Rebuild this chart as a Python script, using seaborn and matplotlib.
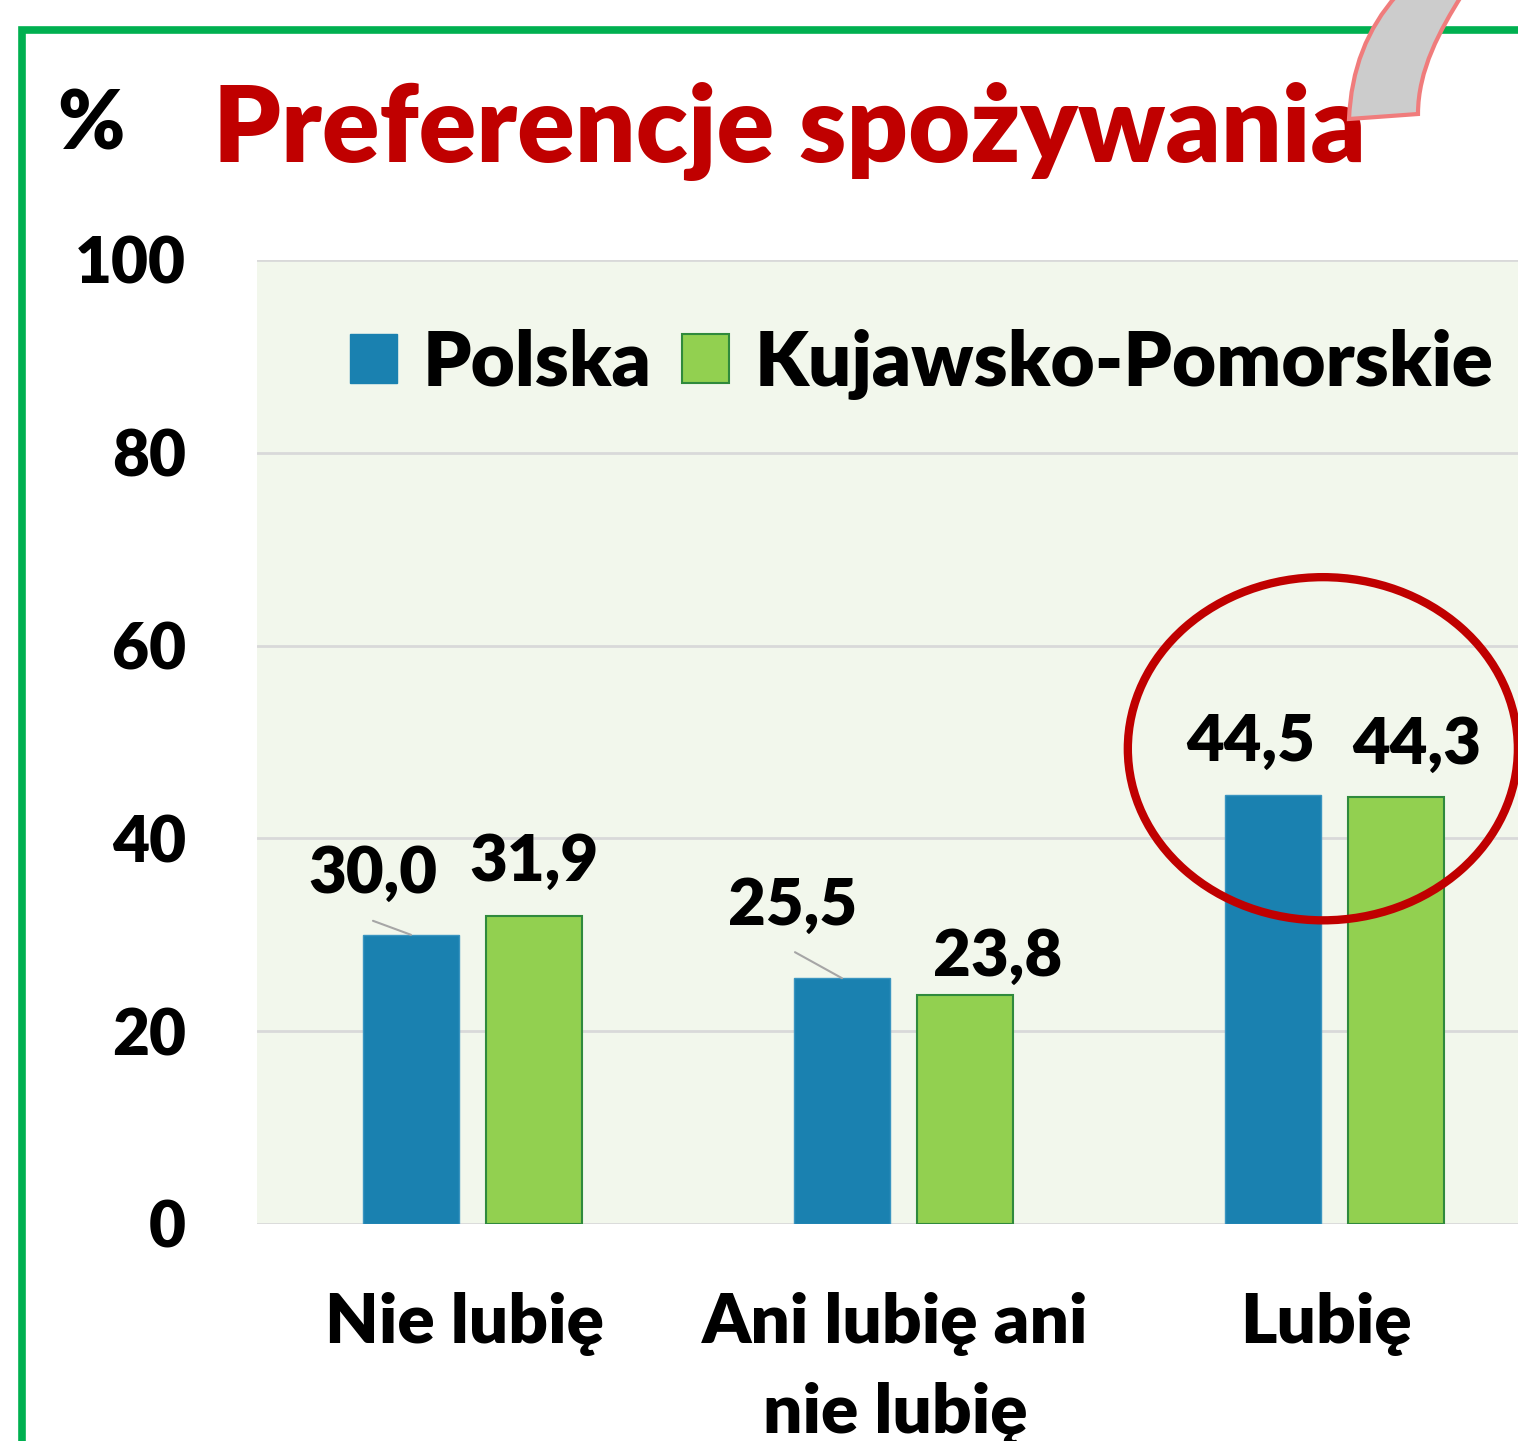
import numpy as np
import pandas as pd
import matplotlib
matplotlib.use("Agg")
import matplotlib.pyplot as plt
import seaborn as sns
from matplotlib.patches import Ellipse, Rectangle, PathPatch, Patch
from matplotlib.path import Path

# ---- data ----
categories = ["Nie lubię", "Ani lubię ani\nnie lubię", "Lubię"]
series = ["Polska", "Kujawsko-Pomorskie"]
polska = [30.0, 25.5, 44.5]
kujawsko = [31.9, 23.8, 44.3]
yticks = [0, 20, 40, 60, 80, 100]
title = "Preferencje spożywania"

# ---- styling ----
W, H = 1518, 1441
BLUE = "#1A81B0"
GREEN = "#92D050"
RED = "#C00000"
WT = "heavy"
sns.set_theme(style="white")
plt.rcParams['font.family'] = ['Lato', 'DejaVu Sans']
plt.rcParams['font.weight'] = 'bold'
plt.rcParams['text.color'] = 'black'
plt.rcParams['xtick.color'] = 'black'
plt.rcParams['ytick.color'] = 'black'

df = pd.DataFrame({
    "kategoria": categories * 2,
    "seria": [series[0]] * len(categories) + [series[1]] * len(categories),
    "wartosc": polska + kujawsko,
})

fig = plt.figure(figsize=(W / 100, H / 100), dpi=100)
fig.patch.set_facecolor("white")
ax = fig.add_axes([257 / W, 1 - 1224 / H, (1550 - 257) / W, (1224 - 260) / H])
ax.set_facecolor("#F2F7EC")

sns.barplot(data=df, x="kategoria", y="wartosc", hue="seria",
            palette=[BLUE, GREEN], width=0.571, gap=0.22, saturation=1,
            legend=False, ax=ax, zorder=3)

for bar in ax.containers[0]:
    bar.set_edgecolor("#3A95C0")
    bar.set_linewidth(1.0)
for bar in ax.containers[1]:
    bar.set_edgecolor("#2F8A3C")
    bar.set_linewidth(1.5)

ax.set_xlim(-0.5, 2.5)
ax.set_ylim(0, 100)
ax.set_yticks(yticks)
ax.set_yticklabels([str(t) for t in yticks], fontsize=46, fontweight=WT, color="black")
# category labels sit slightly left of the group centres in the original
ax.set_xticks([i - 0.019 for i in range(len(categories))])
ax.set_xticklabels(categories, fontsize=50, fontweight=WT, linespacing=1.5, color="black")
ax.tick_params(axis='y', length=0, pad=51)
ax.tick_params(axis='x', length=0, pad=49)
ax.set_xlabel("")
ax.set_ylabel("")
ax.yaxis.grid(True, color="#D9D9D9", linewidth=2, zorder=0)
ax.set_axisbelow(True)
for s in ax.spines.values():
    s.set_visible(False)

# ---- data labels (offsets in pixels from the bar top centre) ----
label_offsets = [[(-38, 60), (-49, 72), (-22, 53)],
                 [(0, 54), (33, 37), (21, 52)]]
leader_starts = {(0, 0): (-38, 14), (0, 1): (-47, 26)}
for si, cont in enumerate(ax.containers):
    for ci, bar in enumerate(cont):
        xc = bar.get_x() + bar.get_width() / 2
        yt = bar.get_height()
        txt = f"{yt:.1f}".replace(".", ",")
        dx, dy = label_offsets[si][ci]
        ax.annotate(txt, (xc, yt), xytext=(dx, dy), textcoords="offset pixels",
                    ha="center", va="center", fontsize=47, fontweight=WT,
                    color="black", zorder=5)
        if (si, ci) in leader_starts:
            lx, ly = leader_starts[(si, ci)]
            ax.annotate("", xy=(xc, yt), xytext=(lx, ly), textcoords="offset pixels",
                        arrowprops=dict(arrowstyle="-", color="#A6A6A6", lw=1.5,
                                        shrinkA=0, shrinkB=0), zorder=5)

# ---- highlight ellipse around "Lubię" ----
hi = 2
ex = hi - 0.027
ey = max(polska[hi], kujawsko[hi]) + 4.8
ax.add_patch(Ellipse((ex, ey), 0.905, 35.6, fill=False, edgecolor=RED,
                     linewidth=6, zorder=6, clip_on=False))

# ---- legend ----
handles = [Patch(facecolor=BLUE, edgecolor=BLUE),
           Patch(facecolor=GREEN, edgecolor="#2F8A3C", linewidth=1.5)]
ax.legend(handles, series, loc="center left", bbox_to_anchor=(350 / W, 1 - 364 / H),
          bbox_transform=fig.transFigure, frameon=False, ncol=2,
          handlelength=0.62, handleheight=0.62, handletextpad=0.33,
          columnspacing=0.4, borderpad=0, borderaxespad=0,
          prop={'weight': WT, 'size': 55})

# ---- titles ----
fig.text(213 / W, 1 - 162 / H, title, color=RED, fontsize=77, fontweight=WT,
         ha="left", va="baseline", zorder=4)
fig.text(57 / W, 1 - 150 / H, "%", color="black", fontsize=58, fontweight=WT,
         ha="left", va="baseline")

# ---- green frame ----
fig.patches.append(Rectangle((22 / W, -0.2), 3, 0.2 + 1 - 30 / H, transform=fig.transFigure,
                             fill=False, edgecolor="#00B050", linewidth=5.5, zorder=1,
                             figure=fig))

# ---- decorative curved arrow at top right ----
def px(x, y):
    return (x / W, 1 - y / H)

verts = [px(1349, 119), px(1352, 45), px(1397, -5),
         px(1462, -5),
         px(1440, 30), px(1418, 70), px(1418, 114),
         px(1349, 119)]
codes = [Path.MOVETO, Path.CURVE3, Path.CURVE3,
         Path.LINETO,
         Path.CURVE4, Path.CURVE4, Path.CURVE4,
         Path.CLOSEPOLY]
fig.patches.append(PathPatch(Path(verts, codes), facecolor="#CCCCCC", edgecolor="#F07C7C",
                             linewidth=3, transform=fig.transFigure, zorder=10, figure=fig))

fig.savefig("out.png", dpi=100)
